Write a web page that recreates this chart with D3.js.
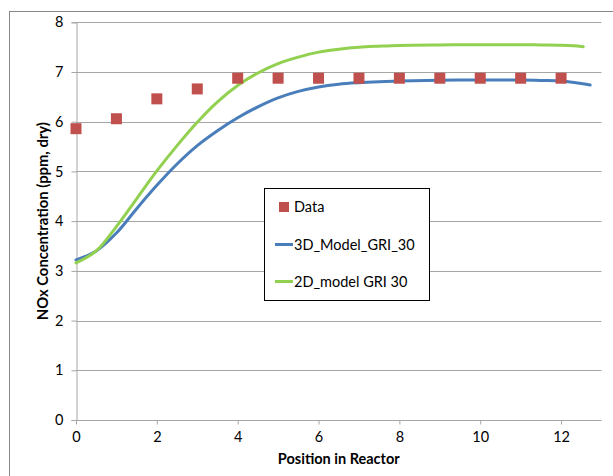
<!DOCTYPE html>
<html><head><meta charset="utf-8">
<script src="https://cdn.jsdelivr.net/npm/d3@7"></script>
<style>
body{margin:0;background:#fff;}
text{font-family:Lato,"Open Sans",sans-serif;fill:#000;}
</style></head>
<body>
<svg id="c" width="613" height="476"></svg>
<script>
const dataX = [0,1,2,3,4,5,6,7,8,9,10,11,12];
const dataY = [5.86,6.06,6.46,6.66,6.875,6.875,6.875,6.875,6.875,6.875,6.875,6.875,6.875];

const model3dX = [0,0.5,1,1.5,2,2.5,3,3.5,4,4.5,5,5.5,6,6.5,7,7.5,8,9,10,11,11.5,12,12.4,12.72];
const model3dY = [3.22,3.40,3.76,4.25,4.72,5.15,5.52,5.82,6.08,6.30,6.48,6.61,6.70,6.755,6.785,6.805,6.82,6.835,6.84,6.84,6.83,6.82,6.78,6.74];

const model2dX = [0,0.5,1,1.5,2,2.5,3,3.5,4,4.5,5,5.5,6,6.5,7,7.5,8,9,10,11,11.5,12,12.3,12.55];
const model2dY = [3.16,3.40,3.89,4.45,5.01,5.52,5.99,6.40,6.73,6.98,7.17,7.30,7.40,7.46,7.50,7.52,7.535,7.545,7.55,7.55,7.545,7.54,7.53,7.51];

const xTicks = [0,2,4,6,8,10,12];
const yTicks = [0,1,2,3,4,5,6,7,8];
const seriesNames = ["Data","3D_Model_GRI_30","2D_model GRI 30"];
const colors = {data:"#C0504D", m3d:"#4A7EBB", m2d:"#92D050"};

const svg = d3.select("#c");
// outer chart border
svg.append("rect").attr("x",9.5).attr("y",11.5).attr("width",700).attr("height",600)
  .attr("fill","none").attr("stroke","#868686").attr("stroke-width",1);

const L=76, R=601.5, T=22.3, B=420;
const x = d3.scaleLinear().domain([0,13]).range([L,R]);
const y = d3.scaleLinear().domain([0,8]).range([B,T]);

// gridlines
svg.append("g").selectAll("line").data(yTicks.filter(d=>d>0)).join("line")
  .attr("x1",L).attr("x2",R).attr("y1",d=>Math.round(y(d))+0.5).attr("y2",d=>Math.round(y(d))+0.5)
  .attr("stroke","#a6a6a6").attr("stroke-width",1);

// y axis
const yAxis = svg.append("g").attr("transform",`translate(${Math.round(L)+0.5},0)`)
  .call(d3.axisLeft(y).tickValues(yTicks).tickSize(5).tickPadding(8).tickFormat(d3.format("d")));
yAxis.select(".domain").attr("stroke","#a6a6a6");
yAxis.selectAll(".tick line").attr("stroke","#a6a6a6");
yAxis.selectAll("text").style("font-size","14.5px").attr("fill","#000");

// x axis
const xAxis = svg.append("g").attr("transform",`translate(0,${Math.round(B)+0.5})`)
  .call(d3.axisBottom(x).tickValues(xTicks).tickSize(4).tickPadding(7).tickFormat(d3.format("d")));
xAxis.select(".domain").attr("stroke","#a6a6a6").attr("d",`M${L},0H${R}`);
xAxis.selectAll(".tick line").attr("stroke","#a6a6a6");
xAxis.selectAll("text").style("font-size","14.5px").attr("fill","#000");

// lines
const line = d3.line().x(d=>x(d[0])).y(d=>y(d[1])).curve(d3.curveCatmullRom.alpha(0.5));
svg.append("path").datum(model3dX.map((v,i)=>[v,model3dY[i]]))
  .attr("d",line).attr("fill","none").attr("stroke",colors.m3d).attr("stroke-width",3).attr("stroke-linecap","round");
svg.append("path").datum(model2dX.map((v,i)=>[v,model2dY[i]]))
  .attr("d",line).attr("fill","none").attr("stroke",colors.m2d).attr("stroke-width",3).attr("stroke-linecap","round");

// data squares
const s = 11;
svg.append("g").selectAll("rect").data(dataX.map((v,i)=>[v,dataY[i]])).join("rect")
  .attr("x",d=>x(d[0])-s/2).attr("y",d=>y(d[1])-s/2).attr("width",s).attr("height",s)
  .attr("fill",colors.data);

// axis titles
svg.append("text").attr("x",(L+R)/2).attr("y",464).attr("text-anchor","middle")
  .style("font-size","14.5px").style("font-weight","bold").text("Position in Reactor");
svg.append("text").attr("transform",`translate(48,${(T+B)/2}) rotate(-90)`).attr("text-anchor","middle")
  .style("font-size","14.8px").style("font-weight","bold").text("NOx Concentration (ppm, dry)");

// legend
const lg = svg.append("g");
lg.append("rect").attr("x",264.5).attr("y",188.5).attr("width",165).attr("height",112)
  .attr("fill","#fff").attr("stroke","#000").attr("stroke-width",1);
lg.append("rect").attr("x",279).attr("y",202).attr("width",10).attr("height",10).attr("fill",colors.data);
lg.append("line").attr("x1",275).attr("x2",293).attr("y1",244.5).attr("y2",244.5).attr("stroke",colors.m3d).attr("stroke-width",3);
lg.append("line").attr("x1",275).attr("x2",293).attr("y1",281.5).attr("y2",281.5).attr("stroke",colors.m2d).attr("stroke-width",3);
const ty=[212,250,287];
seriesNames.forEach((n,i)=>{
  lg.append("text").attr("x",294).attr("y",ty[i]).style("font-size","14.5px").text(n);
});
</script>
</body></html>
